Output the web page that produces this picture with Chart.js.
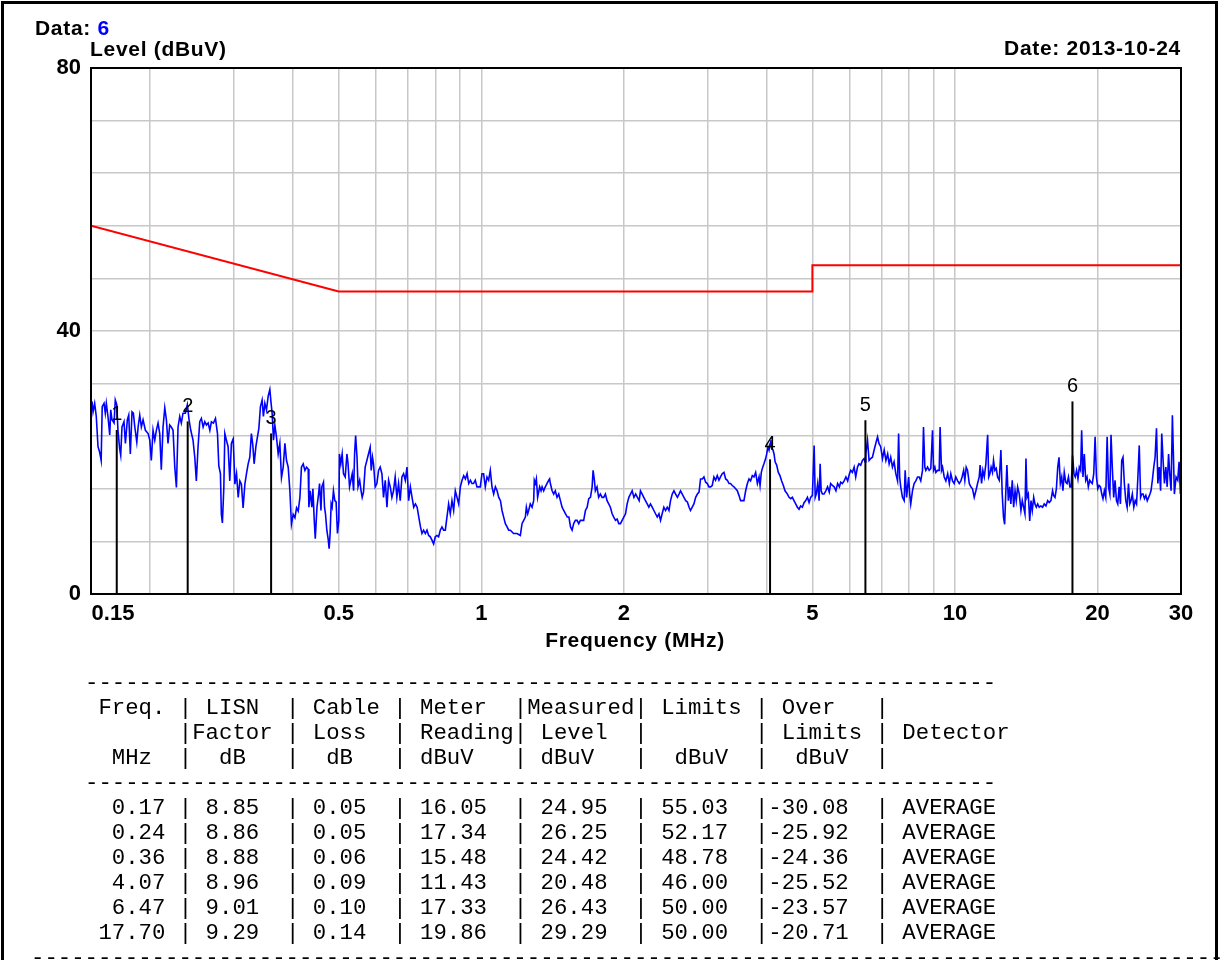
<!DOCTYPE html>
<html>
<head>
<meta charset="utf-8">
<script src="https://cdn.jsdelivr.net/npm/chart.js@4.4.0/dist/chart.umd.min.js"></script>
<style>
html, body { margin: 0; padding: 0; background: #fff; overflow: hidden; }
body { width: 1221px; height: 960px; position: relative; font-family: "Liberation Sans", Arial, sans-serif; }
#frame { position: absolute; left: 1px; top: 1px; width: 1211px; height: 1000px; border: 3px solid #000; }
.lbl { position: absolute; font-weight: bold; font-size: 21px; line-height: 21px; letter-spacing: 0.7px; white-space: nowrap; color: #000; }
#chart { position: absolute; left: 0; top: 0; }
pre { position: absolute; margin: 0; font-family: "Liberation Mono", monospace; font-size: 22.33px; line-height: 25px; color: #000; }
</style>
</head>
<body>
<div id="frame"></div>
<canvas id="chart" width="1221" height="680"></canvas>
<div class="lbl" style="left:35px;top:17px;">Data: <span style="color:#0000ff">6</span></div>
<div class="lbl" style="left:90px;top:38px;">Level (dBuV)</div>
<div class="lbl" style="right:40px;top:37px;">Date: 2013-10-24</div>
<div class="lbl" style="left:485px;width:300px;text-align:center;top:629px;">Frequency (MHz)</div>
<pre id="table" style="left:85px;top:671px;"></pre>
<pre id="footer" style="left:31px;top:946px;"></pre>
<script>
// trace (peak scan), MHz / dBuV
var traceFreq = [
  0.1507,0.1515,0.1527,0.1539,0.1552,0.1564,0.1576,0.1584,0.1598,0.1608,
  0.1616,0.1629,0.1643,0.1651,0.1661,0.1678,0.1688,0.1700,0.1710,0.1724,
  0.1733,0.1744,0.1761,0.1773,0.1790,0.1802,0.1816,0.1831,0.1843,0.1856,
  0.1874,0.1886,0.1901,0.1916,0.1932,0.1954,0.1980,0.1996,0.2011,0.2028,
  0.2045,0.2061,0.2078,0.2095,0.2111,0.2129,0.2147,0.2164,0.2181,0.2199,
  0.2216,0.2235,0.2254,0.2272,0.2290,0.2309,0.2327,0.2346,0.2373,0.2396,
  0.2416,0.2436,0.2463,0.2484,0.2503,0.2524,0.2545,0.2565,0.2587,0.2608,
  0.2629,0.2651,0.2673,0.2693,0.2720,0.2747,0.2774,0.2792,0.2814,0.2827,
  0.2841,0.2861,0.2875,0.2897,0.2921,0.2945,0.2968,0.2994,0.3019,0.3043,
  0.3068,0.3093,0.3116,0.3142,0.3169,0.3194,0.3220,0.3246,0.3271,0.3294,
  0.3315,0.3343,0.3369,0.3392,0.3418,0.3446,0.3468,0.3492,0.3520,0.3549,
  0.3578,0.3600,0.3618,0.3642,0.3666,0.3695,0.3726,0.3756,0.3786,0.3818,
  0.3850,0.3880,0.3912,0.3944,0.3974,0.4008,0.4042,0.4074,0.4107,0.4141,
  0.4172,0.4208,0.4243,0.4276,0.4311,
  0.4326,0.4353,0.4389,0.4411,0.4440,0.4462,0.4499,0.4534,0.4556,0.4587,
  0.4607,0.4644,0.4667,0.4689,0.4720,0.4750,0.4773,0.4796,0.4820,0.4843,
  0.4874,0.4907,0.4938,0.4970,0.5003,0.5018,0.5052,0.5085,0.5118,0.5161,
  0.5204,0.5230,0.5271,0.5306,0.5340,0.5376,0.5402,0.5429,0.5466,0.5493,
  0.5537,0.5575,0.5605,0.5641,0.5687,0.5734,0.5779,0.5827,0.5856,0.5893,
  0.5922,0.5971,0.6020,0.6069,0.6118,0.6169,0.6218,0.6270,0.6322,0.6373,
  0.6424,0.6476,0.6527,0.6580,0.6634,0.6689,0.6743,0.6799,0.6855,0.6912,
  0.6969,0.7025,0.7084,0.7142,0.7201,0.7261,0.7321,0.7380,0.7441,0.7495,
  0.7555,0.7618,0.7680,0.7743,0.7805,0.7868,0.7932,0.7996,0.8061,0.8126,
  0.8193,0.8260,0.8327,0.8395,0.8463,0.8532,0.8601,0.8672,0.8743,0.8814,
  0.8887,0.8959,0.9032,0.9107,0.9181,0.9257,0.9333,0.9409,0.9487,0.9556,
  0.9632,0.9712,0.9793,0.9872,0.9951,1.0034,1.0113,1.0197,1.0281,1.0362,
  1.0448,1.0534,1.0620,1.0709,1.0798,1.0886,1.0977,1.1060,1.1149,1.1241,
  1.1336,1.1426,1.1518,1.1700,1.1894,1.2090,
  1.219,1.229,1.239,1.245,1.253,1.259,1.269,1.280,1.290,1.294,
  1.301,1.307,1.315,1.328,1.337,1.344,1.354,1.365,1.376,1.388,
  1.394,1.399,1.411,1.422,1.433,1.445,1.457,1.469,1.481,1.493,
  1.506,1.519,1.531,1.543,1.555,1.567,1.580,1.593,1.606,1.619,
  1.632,1.645,1.659,1.673,1.686,1.700,1.714,1.722,1.733,1.741,
  1.755,1.769,1.784,1.799,1.813,1.828,1.843,1.858,1.873,1.889,
  1.904,1.920,1.935,1.951,1.967,1.983,1.999,2.016,2.032,2.049,
  2.065,2.082,2.100,2.118,2.136,2.154,2.168,2.186,2.203,2.221,
  2.240,2.258,2.276,2.295,2.314,2.352,2.372,2.390,2.409,2.429,
  2.449,2.469,2.490,2.509,2.530,2.551,2.572,2.594,2.615,2.634,
  2.656,2.678,2.701,2.723,2.746,2.765,2.788,2.811,2.835,2.859,
  2.882,2.903,2.927,2.951,2.976,3.000,3.025,3.048,3.073,3.098,
  3.123,3.149,3.175,3.199,3.226,3.253,3.280,3.307,3.334,3.359,
  3.387,3.415,3.443,3.471,3.499,3.527,
  3.556,3.585,3.615,3.645,3.675,3.702,3.734,3.764,3.795,3.827,
  3.858,3.877,3.901,3.920,3.951,3.984,4.004,4.030,4.050,4.071,
  4.085,4.101,4.128,4.150,4.171,4.203,4.237,4.271,4.306,4.342,
  4.377,4.428,4.464,4.500,4.536,4.572,4.610,4.648,4.686,4.722,
  4.762,4.801,4.841,4.881,4.920,4.958,5.000,5.043,5.069,5.095,
  5.130,5.166,5.192,5.218,5.249,5.291,5.337,5.383,5.427,5.464,
  5.511,5.558,5.606,5.653,5.701,5.737,5.785,5.835,5.885,5.936,
  5.986,6.024,6.074,6.125,6.172,6.225,6.269,6.323,6.377,6.428,
  6.460,6.482,6.536,6.587,6.638,6.695,6.750,6.804,6.863,6.910,
  6.969,7.029,7.089,7.148,7.209,7.261,7.317,7.378,7.438,7.500,
  7.564,7.603,7.642,7.682,7.747,7.811,7.849,7.904,7.943,7.983,
  8.024,8.065,8.133,8.198,8.267,8.337,8.402,8.467,8.539,8.581,
  8.636,8.679,8.751,8.821,8.891,8.965,9.010,9.068,9.112,9.188,
  9.262,9.302,9.365,9.413,9.490,9.567,9.651,9.729,9.799,9.881,
  9.960,10.04,10.13,10.21,10.29,
  10.35,10.43,10.49,10.56,10.63,10.72,10.80,10.89,10.98,11.07,
  11.16,11.25,11.30,11.38,11.45,11.53,11.62,11.72,11.78,11.85,
  11.92,12.00,12.06,12.14,12.22,12.30,12.40,12.50,12.58,12.66,
  12.73,12.79,12.87,12.96,13.05,13.12,13.21,13.30,13.39,13.47,
  13.56,13.67,13.78,13.87,13.96,14.05,14.12,14.19,14.28,14.38,
  14.47,14.56,14.66,14.75,14.85,14.95,15.06,15.18,15.31,15.43,
  15.56,15.69,15.81,15.94,16.07,16.15,16.26,16.37,16.48,16.58,
  16.69,16.80,16.90,17.01,17.13,17.24,17.36,17.48,17.59,17.71,
  17.83,17.94,18.06,18.18,18.30,18.42,18.51,18.63,18.75,18.88,
  19.00,19.12,19.25,19.37,19.49,19.63,19.76,19.89,20.02,20.15,
  20.28,20.41,20.53,20.67,20.81,20.95,21.09,21.23,21.35,21.48,
  21.63,21.77,21.92,22.06,22.21,22.35,22.49,22.63,22.78,22.94,
  23.09,23.24,23.39,23.53,23.68,23.85,24.01,24.17,24.33,24.49,
  24.65,24.79,24.95,25.12,25.29,25.46,25.63,25.80,25.93,26.10,
  26.28,26.45,26.63,26.81,26.99,27.17,27.32,27.50,27.68,27.87,
  28.05,28.24,28.43,28.59,28.77,28.91,29.05,29.29,29.53,29.72,
  29.91
];
var traceLevel = [
  29.3,27.7,29.0,27.0,22.4,21.6,20.3,28.5,29.0,27.5,
  29.0,27.0,24.2,28.0,26.5,26.0,29.5,28.8,24.9,22.1,
  21.1,25.4,26.2,22.9,26.5,27.2,21.3,27.7,27.5,25.4,
  23.1,25.4,27.2,25.4,26.5,24.9,24.4,23.4,20.3,24.9,
  23.4,24.9,26.0,24.4,18.9,25.4,28.3,26.5,22.9,25.7,
  25.4,24.9,19.3,16.2,25.4,27.0,26.0,27.5,27.5,28.8,
  26.5,24.9,23.4,20.8,17.2,22.4,26.2,26.7,25.4,26.2,
  25.7,26.0,24.9,26.2,26.0,26.7,24.4,19.5,18.3,12.1,
  10.8,16.2,24.4,23.4,22.4,17.2,22.9,23.6,16.7,18.3,
  14.7,17.2,16.7,13.1,16.7,18.3,19.8,20.8,24.4,22.6,
  19.8,22.4,23.9,25.2,28.5,29.5,27.0,29.0,28.0,30.1,
  31.1,29.0,27.5,23.4,25.7,23.9,21.3,22.9,17.7,19.3,
  22.9,20.3,19.3,15.7,10.6,12.1,11.6,13.1,12.6,14.7,
  19.3,19.8,18.8,19.3,19.0,
  13.2,15.7,13.2,16.0,11.2,8.4,13.2,15.2,16.8,12.7,
  16.3,17.0,13.2,12.2,9.7,8.4,6.9,9.2,13.7,13.2,
  15.7,14.2,14.0,9.2,11.2,21.3,19.8,21.3,18.3,17.8,
  21.3,20.0,16.3,17.3,18.3,15.7,21.3,24.1,20.8,16.3,
  17.3,15.7,14.7,15.5,19.3,20.3,21.3,22.3,18.8,20.8,
  19.8,16.3,16.8,18.8,19.3,18.3,14.7,17.3,13.2,17.3,
  16.3,14.7,15.7,17.8,14.7,16.8,14.2,17.8,18.3,17.3,
  19.3,14.2,16.3,14.7,13.2,13.7,13.2,11.7,10.2,9.2,
  9.7,9.2,9.7,8.9,8.7,8.2,7.6,8.7,8.9,8.7,
  9.7,10.2,9.7,9.7,11.7,13.7,12.2,14.2,12.7,15.7,
  14.7,13.7,16.3,17.3,18.0,17.5,18.3,16.8,17.3,16.8,
  16.8,17.3,16.3,16.3,16.3,18.3,18.3,16.3,17.8,17.3,
  18.8,16.3,15.2,16.3,15.7,14.7,14.2,12.7,11.7,10.7,
  10.2,9.7,9.7,9.2,9.2,8.9,
  10.7,11.2,11.7,13.2,12.2,12.7,13.7,13.2,14.2,17.3,
  16.8,17.5,14.7,16.3,15.7,16.3,15.7,16.3,16.8,17.3,
  17.5,16.8,15.7,15.2,15.7,14.7,15.2,14.2,13.2,12.7,
  12.2,11.7,11.7,10.2,9.7,10.7,11.2,11.2,10.7,11.2,
  11.2,11.2,12.7,13.2,14.5,14.7,16.3,18.8,17.3,15.7,
  16.3,14.7,15.2,14.7,14.7,15.2,14.2,13.7,13.2,12.2,
  11.7,11.2,11.4,10.7,10.7,11.2,11.7,12.2,13.7,14.7,
  15.2,15.7,14.7,15.2,14.7,14.2,15.7,15.2,14.7,14.2,
  13.7,13.2,13.7,13.2,12.7,11.7,12.2,11.2,12.2,13.2,
  12.7,13.2,12.7,14.2,15.2,15.7,15.2,14.7,15.2,15.7,
  15.2,14.7,14.2,14.0,13.2,12.7,13.2,13.7,14.7,15.2,
  15.5,17.5,17.5,17.8,17.0,16.8,16.3,16.3,16.5,17.8,
  17.3,18.0,17.3,17.8,18.3,18.5,17.5,17.3,16.8,16.8,
  16.5,16.3,16.0,15.7,15.0,14.2,
  14.2,14.2,15.7,16.8,17.5,17.2,18.0,17.8,18.5,16.8,
  17.8,16.5,18.5,19.1,19.8,20.6,21.3,22.4,21.9,22.9,
  23.4,22.1,21.9,21.3,20.1,19.6,18.5,18.0,17.2,16.5,
  15.7,15.2,14.7,14.5,14.7,14.2,13.7,13.2,12.9,13.4,
  13.2,13.9,14.2,14.7,13.9,14.7,15.0,22.6,14.7,15.2,
  16.8,14.2,19.8,15.7,15.2,15.2,15.7,16.3,15.5,16.8,
  16.5,16.3,15.7,16.8,16.3,17.0,16.8,17.2,17.8,17.2,
  18.3,18.8,18.5,19.3,17.8,19.3,19.8,19.6,20.3,20.6,
  20.1,21.3,23.4,20.3,20.6,20.8,21.9,22.9,23.9,22.9,
  22.4,20.6,21.9,20.3,21.3,19.8,20.8,19.3,20.1,18.3,
  17.2,24.4,17.8,16.3,14.7,14.2,18.8,14.7,16.3,17.8,
  15.2,13.7,15.7,16.8,17.2,17.8,17.8,17.2,18.8,25.4,
  19.3,18.8,19.3,18.8,19.1,24.9,18.8,19.3,18.5,18.8,
  18.8,25.4,18.8,19.3,17.8,17.2,18.3,16.8,18.3,17.2,
  16.8,17.8,17.2,16.8,17.2,
  17.8,18.8,17.3,19.3,18.8,16.8,16.3,16.0,14.7,15.7,
  16.8,17.8,19.6,16.8,18.8,17.8,19.8,24.2,17.8,18.3,
  19.3,18.5,20.3,18.8,19.1,17.8,17.3,21.9,15.2,11.7,
  10.6,14.7,19.6,14.2,16.3,13.7,17.3,13.2,15.7,14.2,
  16.3,15.2,12.7,14.2,13.2,12.2,20.6,14.7,15.2,11.1,
  14.2,12.7,14.7,13.7,13.2,13.7,13.2,13.4,13.2,13.7,
  13.4,14.2,13.9,14.2,15.7,15.0,14.7,16.0,19.3,20.8,
  16.8,17.8,15.7,18.5,17.0,16.8,17.8,16.3,16.3,21.1,
  18.3,17.8,18.8,17.5,19.3,18.8,24.9,17.8,21.3,17.3,
  17.8,16.3,17.3,17.0,16.8,18.3,23.9,17.8,16.0,16.5,
  16.3,15.2,14.5,15.7,14.7,23.9,16.3,15.2,24.2,19.3,
  14.7,17.3,14.2,13.7,16.3,13.7,20.3,20.8,16.8,14.2,
  13.2,16.8,13.7,14.2,15.2,13.2,14.2,13.7,17.8,22.6,
  14.7,15.2,15.2,14.5,15.0,14.2,14.7,15.2,15.7,17.3,
  19.3,20.8,25.2,16.8,19.3,15.7,24.4,20.3,16.8,19.3,
  16.3,21.3,17.8,15.7,27.2,21.3,15.2,17.8,17.3,20.1,
  15.2
];

// limit line (average)
var limitFreq = [0.15, 0.5, 5, 5, 30];
var limitLevel = [56, 46, 46, 50, 50];

// marked points and the table under the chart
var markerFreq = [0.17, 0.24, 0.36, 4.07, 6.47, 17.70];
var lisnFactor = [8.85, 8.86, 8.88, 8.96, 9.01, 9.29];
var cableLoss = [0.05, 0.05, 0.06, 0.09, 0.10, 0.14];
var meterReading = [16.05, 17.34, 15.48, 11.43, 17.33, 19.86];
var measuredLevel = [24.95, 26.25, 24.42, 20.48, 26.43, 29.29];
var limitValue = [55.03, 52.17, 48.78, 46.00, 50.00, 50.00];
var overLimit = [-30.08, -25.92, -24.36, -25.52, -23.57, -20.71];

// axes
var xTicks = [0.15, 0.2, 0.3, 0.4, 0.5, 0.6, 0.7, 0.8, 0.9, 1, 2, 3, 4, 5, 6, 7, 8, 9, 10, 20, 30];
var xLabels = { 0.15: '\u2002\u2002\u2002\u20020.15', 0.5: '0.5', 1: '1', 2: '2', 5: '5', 10: '10', 20: '20', 30: '30' };
var yTicks = [0, 8, 16, 24, 32, 40, 48, 56, 64, 72, 80];

var gridColor = '#c8c8c8';
var tickFont = { family: 'Liberation Sans', size: 22, weight: 'bold' };

function toPoints(xs, ys) {
  return xs.map(function (x, i) { return { x: x, y: ys[i] }; });
}

// one black line per marker, from 0 up to its measured level
var markerSets = markerFreq.map(function (f, i) {
  return {
    data: [{ x: f, y: 0 }, { x: f, y: measuredLevel[i] }],
    borderColor: '#000000',
    borderWidth: 2,
    pointRadius: 0
  };
});

var frameBox = {
  id: 'frameBox',
  afterDraw: function (chart) {
    var a = chart.chartArea, ctx = chart.ctx;
    ctx.save();
    ctx.strokeStyle = '#000';
    ctx.lineWidth = 2;
    ctx.strokeRect(a.left, a.top, a.right - a.left, a.bottom - a.top);
    ctx.restore();
  }
};

var markerNumbers = {
  id: 'markerNumbers',
  afterDatasetsDraw: function (chart) {
    var ctx = chart.ctx, xs = chart.scales.x, ys = chart.scales.y;
    ctx.save();
    ctx.fillStyle = '#000';
    ctx.font = '20px "Liberation Sans"';
    ctx.textAlign = 'center';
    ctx.textBaseline = 'middle';
    markerFreq.forEach(function (f, i) {
      ctx.fillText(String(i + 1), xs.getPixelForValue(f), ys.getPixelForValue(measuredLevel[i]) - 15);
    });
    ctx.restore();
  }
};

var ctx = document.getElementById('chart').getContext('2d');
var myChart = new Chart(ctx, {
  type: 'line',
  data: {
    datasets: markerSets.concat([
      {
        data: toPoints(traceFreq, traceLevel),
        borderColor: '#0000ff',
        borderWidth: 1.6,
        pointRadius: 0,
        tension: 0
      },
      {
        data: toPoints(limitFreq, limitLevel),
        borderColor: '#ff0000',
        borderWidth: 2,
        pointRadius: 0,
        tension: 0
      }
    ])
  },
  options: {
    responsive: false,
    animation: false,
    devicePixelRatio: 1,
    layout: { padding: { left: 0, top: 68, right: 40, bottom: 0 } },
    plugins: { legend: { display: false }, tooltip: { enabled: false } },
    scales: {
      x: {
        type: 'logarithmic',
        min: 0.15,
        max: 30,
        afterBuildTicks: function (s) { s.ticks = xTicks.map(function (v) { return { value: v }; }); },
        afterFit: function (s) { s.height = 86; },
        grid: { color: gridColor, lineWidth: 1.5, drawTicks: false },
        border: { color: '#000', width: 2 },
        ticks: {
          autoSkip: false, maxRotation: 0, minRotation: 0, padding: 7,
          color: '#000', font: tickFont,
          callback: function (v) { return xLabels[v] || ''; }
        }
      },
      y: {
        min: 0,
        max: 80,
        afterBuildTicks: function (s) { s.ticks = yTicks.map(function (v) { return { value: v }; }); },
        afterFit: function (s) { s.width = 91; },
        grid: { color: gridColor, lineWidth: 1.5, drawTicks: false },
        border: { color: '#000', width: 2 },
        ticks: {
          padding: 10, color: '#000', font: tickFont,
          callback: function (v) { return v % 40 === 0 ? String(v) : ''; }
        }
      }
    }
  },
  plugins: [frameBox, markerNumbers]
});

// text table
function dashes(n) { return new Array(n + 1).join('-'); }
var lines = [
  dashes(68),
  ' Freq. | LISN  | Cable | Meter  |Measured| Limits | Over   |',
  '       |Factor | Loss  | Reading| Level  |        | Limits | Detector',
  '  MHz  |  dB   |  dB   | dBuV   | dBuV   |  dBuV  |  dBuV  |',
  dashes(68)
];
markerFreq.forEach(function (f, i) {
  lines.push(
    f.toFixed(2).padStart(6) + ' |' +
    (' ' + lisnFactor[i].toFixed(2)).padEnd(7) + '|' +
    (' ' + cableLoss[i].toFixed(2)).padEnd(7) + '|' +
    (' ' + meterReading[i].toFixed(2)).padEnd(8) + '|' +
    (' ' + measuredLevel[i].toFixed(2)).padEnd(8) + '|' +
    (' ' + limitValue[i].toFixed(2)).padEnd(8) + '|' +
    overLimit[i].toFixed(2).padEnd(8) + '|' +
    ' AVERAGE'
  );
});
document.getElementById('table').textContent = lines.join('\n');
document.getElementById('footer').textContent = dashes(89);
</script>
</body>
</html>
